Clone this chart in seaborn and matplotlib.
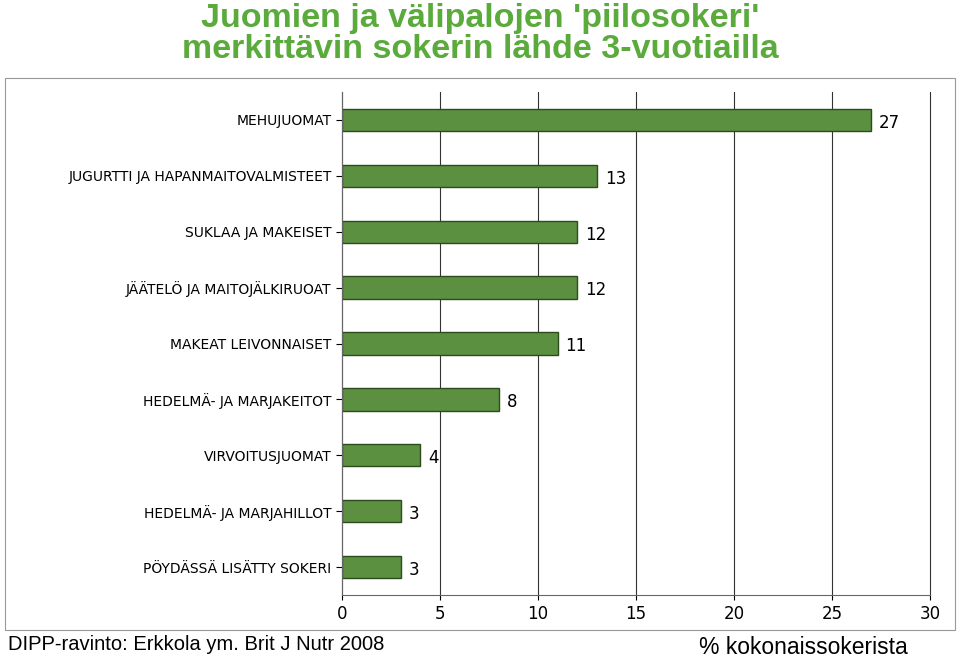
import matplotlib
matplotlib.use("Agg")
import matplotlib.pyplot as plt
import seaborn as sns
import pandas as pd
from matplotlib.patches import Rectangle

categories = ["MEHUJUOMAT", "JUGURTTI JA HAPANMAITOVALMISTEET", "SUKLAA JA MAKEISET",
              "JÄÄTELÖ JA MAITOJÄLKIRUOAT", "MAKEAT LEIVONNAISET", "HEDELMÄ- JA MARJAKEITOT",
              "VIRVOITUSJUOMAT", "HEDELMÄ- JA MARJAHILLOT", "PÖYDÄSSÄ LISÄTTY SOKERI"]
values = [27, 13, 12, 12, 11, 8, 4, 3, 3]
xticks = [0, 5, 10, 15, 20, 25, 30]

df = pd.DataFrame({"cat": categories, "val": values})
fig = plt.figure(figsize=(9.6, 6.66), dpi=100)
fig.patches.append(Rectangle((5/960, 1-630/666), 950/960, 552/666, transform=fig.transFigure,
                             fill=False, edgecolor="#999999", lw=0.8))
ax = fig.add_axes([342/960, 1-595/666, 588/960, 503/666])
sns.barplot(data=df, x="val", y="cat", color="#5a9040", edgecolor="#2e4a1e",
            linewidth=1, width=0.4, saturation=1, ax=ax)
ax.set_xlim(0, 30)
ax.set_xticks(xticks)
ax.set_xticklabels([str(t) for t in xticks], fontsize=12)
ax.tick_params(axis="y", labelsize=10, length=4)
ax.grid(axis="x", color="#333333", lw=0.8)
for gl in ax.get_xgridlines():
    gl.set_clip_on(False)
ax.set_axisbelow(True)
for s in ["top", "right"]:
    ax.spines[s].set_visible(False)
ax.spines["left"].set_color("#666666")
ax.spines["bottom"].set_color("#666666")
ax.set_xlabel("")
ax.set_ylabel("")
for i, v in enumerate(values):
    ax.text(v + 0.4, i + 0.05, str(v), va="center", ha="left", fontsize=12)
fig.text(0.5, 0.995, "Juomien ja välipalojen 'piilosokeri'\nmerkittävin sokerin lähde 3-vuotiailla",
         ha="center", va="top", fontsize=24.5, fontweight="bold", color="#5aaa3c",
         linespacing=1.0, family="Liberation Sans")
fig.text(8/960, 1-645/666, "DIPP-ravinto: Erkkola ym. Brit J Nutr 2008", fontsize=14.5,
         va="center", family="Liberation Sans")
fig.text(908/960, 1-647/666, "% kokonaissokerista", fontsize=16.5, ha="right",
         va="center", family="Liberation Sans")
fig.savefig("out.png", dpi=100)
